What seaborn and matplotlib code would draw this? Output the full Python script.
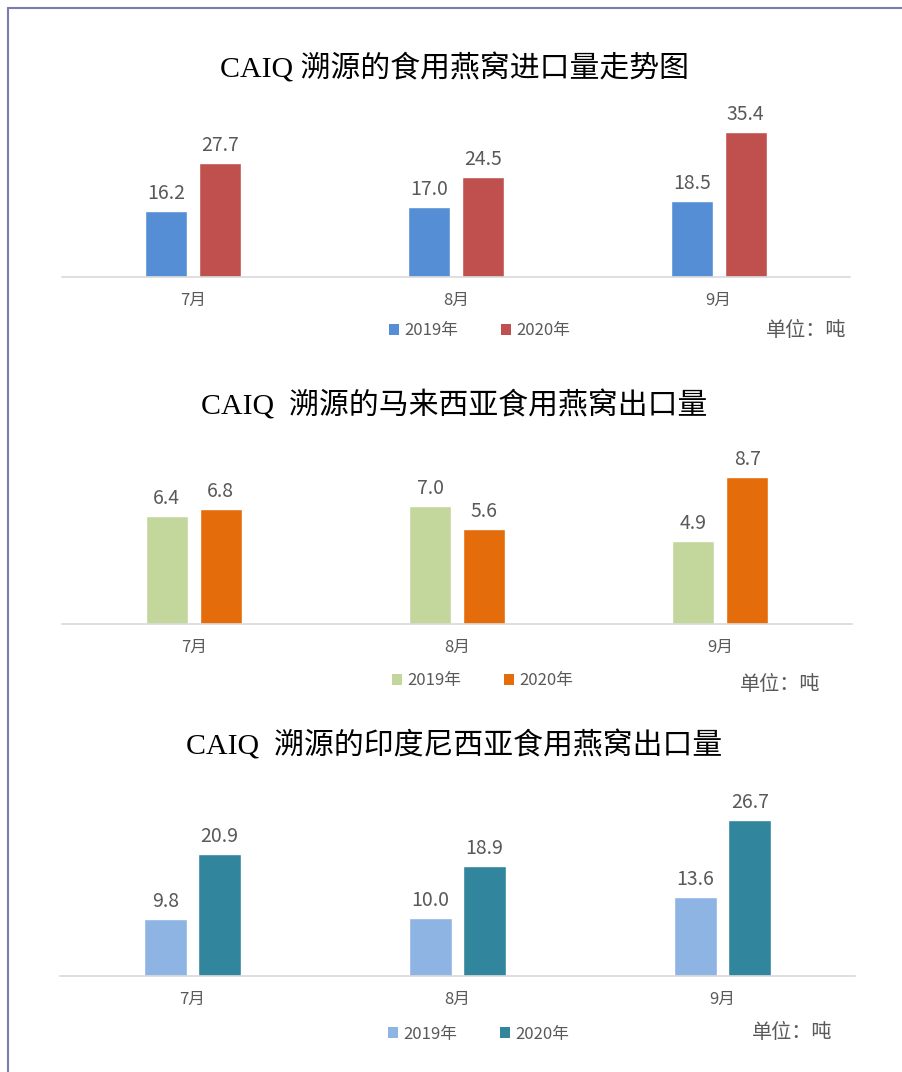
import matplotlib.pyplot as plt
import pandas as pd
import seaborn as sns
from matplotlib.lines import Line2D
from matplotlib.patches import Patch

# 数据
months = ["7月", "8月", "9月"]
years = ["2019年", "2020年"]

import_2019 = [16.2, 17.0, 18.5]
import_2020 = [27.7, 24.5, 35.4]
malaysia_2019 = [6.4, 7.0, 4.9]
malaysia_2020 = [6.8, 5.6, 8.7]
indonesia_2019 = [9.8, 10.0, 13.6]
indonesia_2020 = [20.9, 18.9, 26.7]

titles = [
    "CAIQ 溯源的食用燕窝进口量走势图",
    "CAIQ  溯源的马来西亚食用燕窝出口量",
    "CAIQ  溯源的印度尼西亚食用燕窝出口量",
]
unit_text = "单位：吨"

sns.set_theme(style="white")
plt.rcParams["font.family"] = ["Noto Sans CJK SC", "DejaVu Sans"]

W, H = 903, 1072
GREY = "#595959"

fig = plt.figure(figsize=(W / 100, H / 100), dpi=100)


def fx(x):
    return x / W


def fy(y):
    return 1 - y / H


def draw_panel(v19, v20, colors, title, box, ymax, title_y, legend_xy, unit_xy):
    left, top, right, bottom = box
    ax = fig.add_axes([fx(left), fy(bottom), (right - left) / W, (bottom - top) / H])

    df = pd.DataFrame(
        {
            "月份": months * 2,
            "年份": [years[0]] * len(months) + [years[1]] * len(months),
            "数量": v19 + v20,
        }
    )
    sns.barplot(
        data=df,
        x="月份",
        y="数量",
        hue="年份",
        hue_order=years,
        palette=colors,
        saturation=1,
        width=0.41,
        gap=0.22,
        legend=False,
        ax=ax,
    )
    for c in ax.containers:
        ax.bar_label(c, fmt="%.1f", padding=5, fontsize=14, color=GREY)

    ax.set_xlim(-0.5, len(months) - 0.5)
    ax.set_ylim(0, ymax)
    ax.set_yticks([])
    ax.set_xlabel("")
    ax.set_ylabel("")
    ax.tick_params(axis="x", length=0, pad=11, labelsize=12, labelcolor=GREY)
    for s in ["left", "right", "top"]:
        ax.spines[s].set_visible(False)
    ax.spines["bottom"].set_color("#D9D9D9")
    ax.spines["bottom"].set_linewidth(1.2)

    # タイトル
    fig.text(
        fx(454), fy(title_y), title,
        ha="center", va="center", fontsize=21.5, color="black",
        family=["Liberation Serif", "Noto Sans CJK SC"],
    )

    # 凡例
    handles = [Patch(facecolor=c, edgecolor="none") for c in colors]
    fig.legend(
        handles, years,
        loc="center left", bbox_to_anchor=(fx(legend_xy[0]), fy(legend_xy[1])),
        ncol=2, frameon=False, fontsize=12, labelcolor=GREY,
        handlelength=0.6, handleheight=0.6, handletextpad=0.3,
        columnspacing=2.6, borderaxespad=0, borderpad=0,
    )

    # 単位
    fig.text(fx(unit_xy[0]), fy(unit_xy[1]), unit_text,
             ha="left", va="center", fontsize=14.5, color=GREY)


draw_panel(import_2019, import_2020, ["#558ED5", "#C0504D"], titles[0],
           (62, 113, 850, 277), 40, 68, (389, 331), (766, 331))
draw_panel(malaysia_2019, malaysia_2020, ["#C3D69B", "#E46C0A"], titles[1],
           (62, 455, 852, 624), 10, 405, (392, 681), (740, 684))
draw_panel(indonesia_2019, indonesia_2020, ["#8EB4E3", "#31859C"], titles[2],
           (60, 801, 855, 976), 30, 745, (388, 1034), (752, 1033))

# 枠線
fig.add_artist(Line2D([fx(8), fx(8)], [0, fy(8)], transform=fig.transFigure,
                      color="#7B7BB0", lw=1.5))
fig.add_artist(Line2D([fx(8), 1], [fy(8), fy(8)], transform=fig.transFigure,
                      color="#7B7BB0", lw=1.5))

fig.savefig("out.png", dpi=100)
